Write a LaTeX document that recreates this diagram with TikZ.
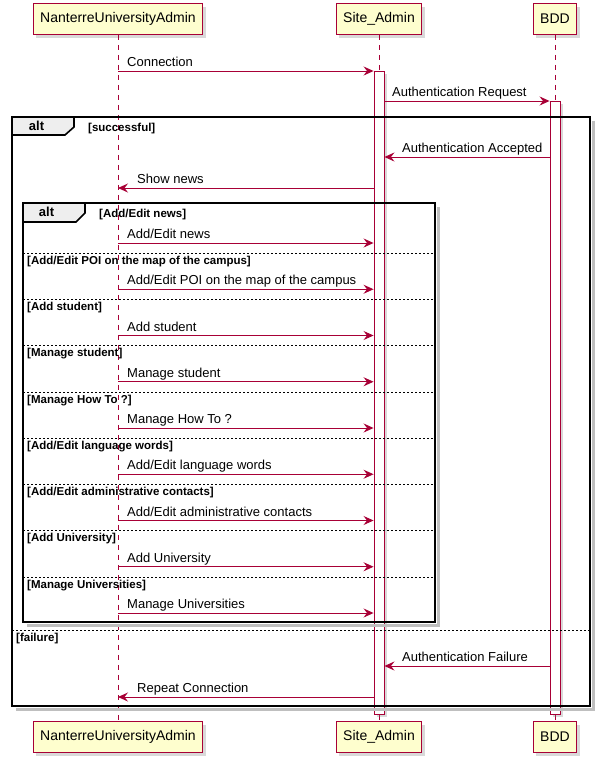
\documentclass[tikz,border=0pt]{standalone}
\usepackage{fontspec}
\setmainfont{Liberation Sans}
\usetikzlibrary{arrows.meta,shadows}

\definecolor{umlred}{HTML}{A80036}
\definecolor{umlyellow}{HTML}{FEFECE}
\definecolor{umltab}{HTML}{EEEEEE}

\begin{document}
\begin{tikzpicture}[x=1pt,y=-1pt,
    actor/.style={draw=umlred,fill=umlyellow,line width=0.9pt,minimum height=31pt,inner xsep=7pt,
        font=\fontsize{14}{16}\selectfont,drop shadow={shadow xshift=3pt,shadow yshift=-3pt,opacity=0.3}},
    lifeline/.style={draw=umlred,line width=0.6pt,dash pattern=on 5pt off 5pt},
    bar/.style={draw=umlred,fill=white,line width=0.9pt,minimum width=10pt,inner sep=0pt,anchor=north,
        drop shadow={shadow xshift=3pt,shadow yshift=-3pt,opacity=0.3}},
    msg/.style={draw=umlred,line width=0.9pt,-{Stealth[length=10pt,width=9pt,inset=3.5pt]}},
    msglabel/.style={anchor=base west,inner sep=0pt,font=\fontsize{13}{15}\selectfont},
    frame/.style={draw=black,line width=1.6pt},
    tab/.style={draw=black,fill=umltab,line width=1.6pt},
    guard/.style={anchor=base west,inner sep=0pt,font=\fontsize{11.5}{13}\selectfont\bfseries},
    divider/.style={draw=black,line width=0.7pt,dash pattern=on 2pt off 2pt},
    fshadow/.style={draw=black!25,line width=2.5pt}]
    \useasboundingbox (0,0) rectangle (600,763);

    % participants
    \node[actor] (nuaTop) at (118,19) {NanterreUniversityAdmin};
    \node[actor] (siteTop) at (379,19) {Site\_Admin};
    \node[actor] (bddTop) at (555,19) {BDD};
    \node[actor] (nuaBot) at (118,737) {NanterreUniversityAdmin};
    \node[actor] (siteBot) at (379,737) {Site\_Admin};
    \node[actor] (bddBot) at (555,737) {BDD};

    \draw[lifeline] (nuaTop) -- (nuaBot);
    \draw[lifeline] (siteTop) -- (siteBot);
    \draw[lifeline] (bddTop) -- (bddBot);

    % activations
    \node[bar,minimum height=643pt] (siteBar) at (379,71) {};
    \node[bar,minimum height=613pt] (bddBar) at (555,101) {};

    % frames
    \draw[fshadow] (593.5,121) -- (593.5,709.5) -- (16,709.5);
    \draw[frame] (12,117) rectangle (590,706);
    \draw[tab] (12,117) -- (74,117) -- (74,127) -- (65,135) -- (12,135) -- cycle;
    \node[font=\fontsize{13}{15}\selectfont\bfseries] (altOut) at (36.5,126) {alt};
    \node[guard] (gSucc) at (88,131) {[successful]};
    \draw[divider] (12,630) -- (590,630);
    \node[guard] (gFail) at (16,641) {[failure]};

    \draw[fshadow] (438.5,207) -- (438.5,625.5) -- (27,625.5);
    \draw[frame] (23,203) rectangle (435,622);
    \draw[tab] (23,203) -- (85,203) -- (85,213) -- (76,222) -- (23,222) -- cycle;
    \node[font=\fontsize{13}{15}\selectfont\bfseries] (altIn) at (46.5,212) {alt};

    % messages
    \draw[msg] (nuaTop |- 0,71) -- (siteBar.west |- 0,71);
    \node[msglabel] (lConn) at (127,66.5) {Connection};
    \draw[msg] (siteBar.east |- 0,101) -- (bddBar.west |- 0,101);
    \node[msglabel] (lReq) at (392,96.5) {Authentication Request};
    \draw[msg] (bddBar.west |- 0,157) -- (siteBar.east |- 0,157);
    \node[msglabel] (lAcc) at (402,152.5) {Authentication Accepted};
    \draw[msg] (siteBar.west |- 0,188) -- (nuaTop |- 0,188);
    \node[msglabel] (lNews) at (137,183.5) {Show news};

    \foreach \txt [count=\i] in {{Add/Edit news},{Add/Edit POI on the map of the campus},{Add student},
            {Manage student},{Manage How To ?},{Add/Edit language words},
            {Add/Edit administrative contacts},{Add University},{Manage Universities}}{
        \pgfmathsetmacro{\ya}{243+46.25*(\i-1)}
        \ifnum\i=1
            \node[guard] (guard\i) at (99,217) {[\txt]};
        \else
            \draw[divider] (23,\ya-36) -- (435,\ya-36);
            \node[guard] (guard\i) at (27,\ya-25) {[\txt]};
        \fi
        \draw[msg] (nuaTop |- 0,\ya) -- (siteBar.west |- 0,\ya);
        \node[msglabel] (lMsg\i) at (127,\ya-4.5) {\txt};
    }

    \draw[msg] (bddBar.west |- 0,666) -- (siteBar.east |- 0,666);
    \node[msglabel] (lFail) at (402,661.5) {Authentication Failure};
    \draw[msg] (siteBar.west |- 0,697) -- (nuaTop |- 0,697);
    \node[msglabel] (lRep) at (137,692.5) {Repeat Connection};
\end{tikzpicture}
\end{document}
